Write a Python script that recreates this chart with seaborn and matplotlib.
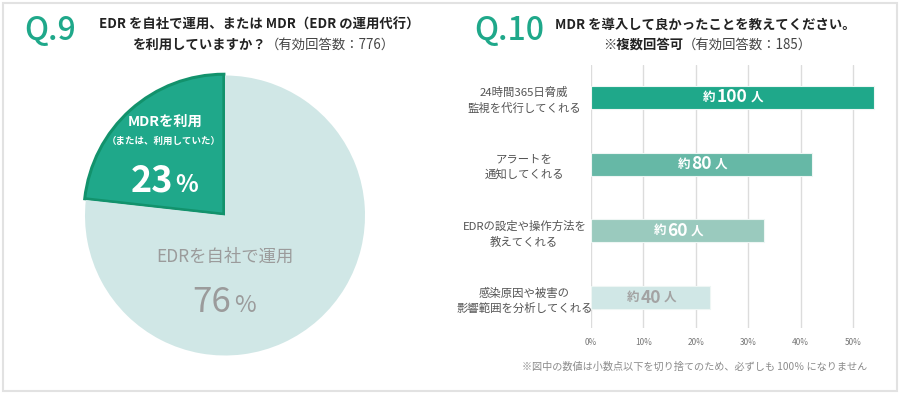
import matplotlib
matplotlib.use("Agg")
import matplotlib.pyplot as plt
import seaborn as sns
from matplotlib.patches import Rectangle

# Q.9 円グラフ
pie_labels = ["MDRを利用", "EDRを自社で運用"]
pie_values = [23, 76]
pie_colors = ["#1FA88A", "#D0E7E6"]

# Q.10 横棒グラフ
bar_labels = ["24時間365日脅威\n監視を代行してくれる",
              "アラートを\n通知してくれる",
              "EDRの設定や操作方法を\n教えてくれる",
              "感染原因や被害の\n影響範囲を分析してくれる"]
bar_values = [54.0, 42.2, 33.0, 22.7]
bar_counts = ["100", "80", "60", "40"]
bar_colors = ["#1FA88A", "#66B8A6", "#9ACABE", "#D0E7E6"]
bar_text_colors = ["white", "white", "white", "#A3A3A3"]
x_ticks = [0, 10, 20, 30, 40, 50]

W, H = 900, 394
TEAL = "#1FA88A"

sns.set_style("white")
plt.rcParams["font.family"] = ["Noto Sans CJK JP", "DejaVu Sans"]


def fx(x):
    return x / W


def fy(y):
    return 1 - y / H


fig = plt.figure(figsize=(9, 3.94), dpi=100)

# 外枠
fig.add_artist(Rectangle((fx(3), fy(391)), fx(894), 388 / H, transform=fig.transFigure,
                         fill=False, ec="#E2E2E2", lw=1.5))

# ---- Q.9 ----
fig.text(fx(24), fy(31), "Q.9", fontsize=23, color=TEAL, weight="medium",
         ha="left", va="center")
fig.text(fx(259), fy(25), "EDR を自社で運用、または MDR（EDR の運用代行）",
         fontsize=9.6, weight="bold", color="#222222", ha="center", va="center")
fig.text(fx(266), fy(45), "を利用していますか？", fontsize=9.6, weight="bold",
         color="#222222", ha="right", va="center")
fig.text(fx(266), fy(45), "（有効回答数：776）", fontsize=9.6, color="#444444",
         ha="left", va="center")

r = 140
ax1 = fig.add_axes([fx(225 - 1.1 * r), fy(215.5 + 1.1 * r), 2.2 * r / W, 2.2 * r / H])
wedges, _ = ax1.pie(pie_values, colors=pie_colors, startangle=90, counterclock=True,
                    explode=[0.012, 0], wedgeprops=dict(linewidth=0))
wedges[0].set_edgecolor("#12926C")
wedges[0].set_linewidth(2.2)
ax1.set_xlim(-1.1, 1.1)
ax1.set_ylim(-1.1, 1.1)
ax1.set_aspect("equal")
ax1.axis("off")

fig.text(fx(165), fy(122), pie_labels[0], fontsize=10.3, weight="bold", color="white",
         ha="center", va="center")
fig.text(fx(164), fy(141), "（または、利用していた）", fontsize=6.8, weight="bold",
         color="white", ha="center", va="center")
fig.text(fx(173), fy(192), str(pie_values[0]), fontsize=26, weight="bold", color="white",
         ha="right", va="baseline")
fig.text(fx(175), fy(192), "%", fontsize=17, weight="bold", color="white",
         ha="left", va="baseline")

fig.text(fx(225), fy(257), pie_labels[1], fontsize=12.5, color="#9B9B9B",
         ha="center", va="center")
fig.text(fx(231), fy(312), str(pie_values[1]), fontsize=25, color="#9B9B9B",
         ha="right", va="baseline")
fig.text(fx(234), fy(312), "%", fontsize=17, color="#9B9B9B", ha="left", va="baseline")

# ---- Q.10 ----
fig.text(fx(474), fy(31), "Q.10", fontsize=23, color=TEAL, weight="medium",
         ha="left", va="center")
fig.text(fx(705), fy(25), "MDR を導入して良かったことを教えてください。",
         fontsize=9.6, weight="bold", color="#222222", ha="center", va="center")
fig.text(fx(683), fy(45), "※複数回答可", fontsize=9.6, weight="bold",
         color="#222222", ha="right", va="center")
fig.text(fx(683), fy(45), "（有効回答数：185）", fontsize=9.6, color="#444444",
         ha="left", va="center")

x0, x50 = 591, 853
unit = (x50 - x0) / 50
xmax = 55
ax2 = fig.add_axes([fx(x0), fy(328), xmax * unit / W, (328 - 65) / H])
sns.barplot(x=bar_values, y=bar_labels, hue=bar_labels, palette=bar_colors, legend=False,
            orient="h", width=0.345, saturation=1, ax=ax2, edgecolor="#EEF6F4",
            linewidth=0.8, zorder=3)
ax2.set_xlim(0, xmax)
sp = 66.67
ax2.set_ylim(3 + 30.5 / sp, -32.5 / sp)
ax2.set_xticks(x_ticks)
ax2.set_xticklabels([f"{t}%" for t in x_ticks])
ax2.grid(axis="x", color="#DCDCDC", lw=1, zorder=0)
ax2.set_axisbelow(True)
for s in ax2.spines.values():
    s.set_visible(False)
ax2.set_xlabel("")
ax2.set_ylabel("")
ax2.tick_params(axis="x", length=0, labelsize=6, labelcolor="#777777", pad=7)
ax2.tick_params(axis="y", length=0, labelsize=8.2, labelcolor="#555555", pad=48)
for lbl in ax2.get_yticklabels():
    lbl.set_ha("center")
    lbl.set_multialignment("center")
    lbl.set_linespacing(1.5)

for i, (v, n, c) in enumerate(zip(bar_values, bar_counts, bar_text_colors)):
    num = ax2.text(v / 2, i, n, fontsize=12.5, weight="bold", color=c, ha="center", va="center",
                   zorder=5)
    ax2.annotate("約", xy=(0, 0.5), xycoords=num, xytext=(-1, 0), textcoords="offset points",
                 fontsize=9, weight="bold", color=c, ha="right", va="center", zorder=5)
    ax2.annotate("人", xy=(1, 0.5), xycoords=num, xytext=(2, 0), textcoords="offset points",
                 fontsize=9, weight="bold", color=c, ha="left", va="center", zorder=5)

fig.text(fx(695), fy(367), "※図中の数値は小数点以下を切り捨てのため、必ずしも 100％ になりません",
         fontsize=7.3, color="#8A8A8A", ha="center", va="center")

fig.savefig("out.png", dpi=100)
